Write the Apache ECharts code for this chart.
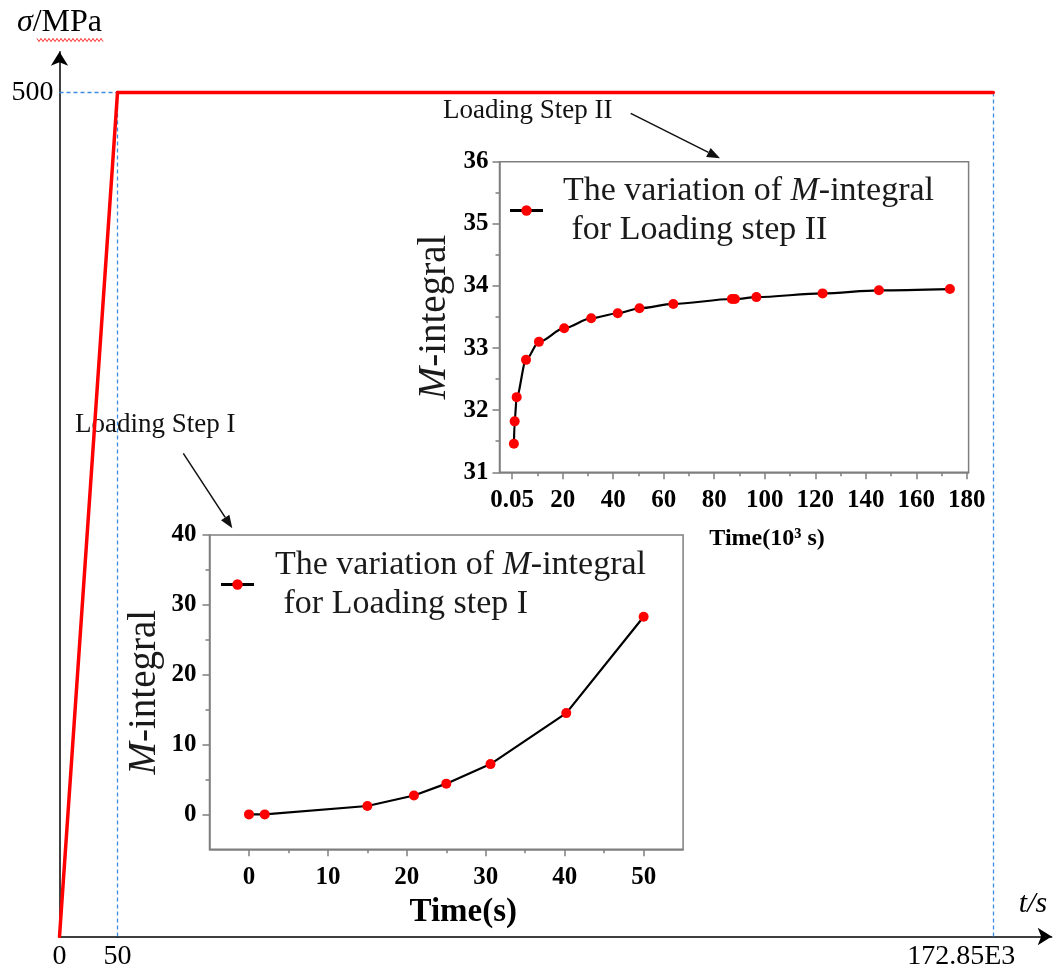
<!DOCTYPE html>
<html><head><meta charset="utf-8">
<script src="https://cdn.jsdelivr.net/npm/echarts@6/dist/echarts.min.js"></script>
<style>html,body{margin:0;padding:0;background:#fff}#c{width:1057px;height:976px}</style>
</head><body><div id="c"></div>
<script>
// ---------- data ----------
const mainTime = [0, 50, 172850];          // s (schematic broken axis)
const mainStress = [0, 500, 500];          // MPa
const step1Time = [0, 2, 15, 20.9, 25, 30.6, 40.2, 50];              // s
const step1M = [0, 0, 1.2, 2.7, 4.4, 7.2, 14.5, 28.3];
const step2Time = [0.7, 1.0, 1.8, 5.5, 10.6, 20.6, 31.3, 41.8, 50.4, 63.8, 87.0, 88.2, 96.7, 122.9, 145.2, 173.3]; // 10^3 s
const step2M = [31.46, 31.82, 32.21, 32.81, 33.10, 33.32, 33.48, 33.56, 33.64, 33.71, 33.79, 33.79, 33.82, 33.88, 33.93, 33.95];
const step1XTicks = [0, 10, 20, 30, 40, 50];
const step1XMinor = [5, 15, 25, 35, 45];
const step1YTicks = [0, 10, 20, 30, 40];
const step1YMinor = [5, 15, 25, 35];
const step2XTicks = [0, 20, 40, 60, 80, 100, 120, 140, 160, 180];
const step2XMinor = [10, 30, 50, 70, 90, 110, 130, 150, 170];
const step2YTicks = [31, 32, 33, 34, 35, 36];
const step2YMinor = [31.5, 32.5, 33.5, 34.5, 35.5];
const step2FirstLabel = '0.05';
const endLabel = '172.85E3';

// ---------- styling ----------
const SERIF = '"Liberation Serif", "Times New Roman", serif';
const GRAY = '#7f7f7f';
const grayLine = {color: GRAY, width: 1.5};
const tickLbl = {fontFamily: SERIF, fontWeight: 'bold', fontSize: 25, color: '#000'};
const richM = {
  a: {fontFamily: SERIF, fontSize: 39, color: '#1a1a1a'},
  i: {fontFamily: SERIF, fontSize: 39, fontStyle: 'italic', color: '#1a1a1a'}
};
const legRich = {
  a: {fontFamily: SERIF, fontSize: 34, lineHeight: 39, color: '#1a1a1a'},
  i: {fontFamily: SERIF, fontSize: 34, lineHeight: 39, fontStyle: 'italic', color: '#1a1a1a'}
};

function majorAxis(grid, pos, min, max, ticks, margin, extra, fmt) {
  const lbl = Object.assign({customValues: ticks, margin: margin}, tickLbl);
  if (fmt) lbl.formatter = fmt;
  return Object.assign({
    gridIndex: grid, type: 'value', position: pos, min: min, max: max,
    axisLine: {show: true, onZero: false, lineStyle: grayLine},
    axisTick: {show: true, customValues: ticks, length: 7, lineStyle: grayLine},
    axisLabel: lbl,
    splitLine: {show: false}
  }, extra || {});
}
function minorAxis(grid, pos, min, max, ticks) {
  return {
    gridIndex: grid, type: 'value', position: pos, offset: 0, min: min, max: max,
    axisLine: {show: false, onZero: false},
    axisTick: {show: true, customValues: ticks, length: 4, lineStyle: grayLine},
    axisLabel: {show: false}, splitLine: {show: false}
  };
}
function arrow(x1, y1, x2, y2) {
  const a = Math.atan2(y2 - y1, x2 - x1), L = 13, W = 5;
  const bx = x2 - L * Math.cos(a), by = y2 - L * Math.sin(a);
  return [
    {type: 'line', silent: true, shape: {x1: x1, y1: y1, x2: bx, y2: by}, style: {stroke: '#111', lineWidth: 1.5}},
    {type: 'polygon', silent: true, shape: {points: [[x2, y2], [bx + W * Math.sin(a), by - W * Math.cos(a)], [bx - W * Math.sin(a), by + W * Math.cos(a)]]}, style: {fill: '#111'}}
  ];
}
const squiggle = [];
for (let x = 37, k = 0; x <= 103; x += 2, k++) squiggle.push([x, 40 + (k % 2 ? 1.6 : -1.6)]);

const dashStyle = {color: '#3f8be0', type: [4, 3], width: 1.3};

const option = {
  backgroundColor: '#fff',
  animation: false,
  grid: [
    {left: 59.5, top: 51.7, width: 58, height: 884.8, show: false, outerBoundsMode: 'none'},
    {left: 117.5, top: 51.7, width: 934.2, height: 884.8, show: false, outerBoundsMode: 'none'},
    {left: 209.5, top: 535, width: 473.6, height: 314.3, show: true, backgroundColor: '#fff', borderColor: GRAY, borderWidth: 1.5, outerBoundsMode: 'none'},
    {left: 499.5, top: 161.7, width: 469.1, height: 310.6, show: true, backgroundColor: '#fff', borderColor: GRAY, borderWidth: 1.5, outerBoundsMode: 'none'}
  ],
  xAxis: [
    {gridIndex: 0, type: 'value', min: 0, max: 50, interval: 50,
     axisLine: {onZero: false, lineStyle: {color: '#000', width: 1.5}}, axisTick: {show: false}, splitLine: {show: false},
     axisLabel: {fontFamily: SERIF, fontSize: 28, color: '#000', margin: 6}},
    {gridIndex: 1, type: 'value', min: 50, max: 184375,
     axisLine: {onZero: false, lineStyle: {color: '#000', width: 1.5}, symbol: ['none', 'arrow'], symbolSize: [13, 14]},
     axisTick: {show: false}, splitLine: {show: false},
     axisLabel: {customValues: [mainTime[2]], formatter: () => endLabel, fontFamily: SERIF, fontSize: 28, color: '#000', margin: 6, padding: [0, 64, 0, 0]}},
    majorAxis(2, 'bottom', -5, 55, step1XTicks, 16, {
      name: 'Time(s)', nameLocation: 'middle', nameGap: 47,
      nameTextStyle: {fontFamily: SERIF, fontWeight: 'bold', fontSize: 33, color: '#000', padding: [0, 0, 0, 34]}}),
    minorAxis(2, 'bottom', -5, 55, step1XMinor),
    majorAxis(3, 'bottom', -5, 180.7, step2XTicks, 16, {
      name: 'Time(10³ s)', nameLocation: 'middle', nameGap: 54,
      nameTextStyle: {fontFamily: SERIF, fontWeight: 'bold', fontSize: 24, color: '#000', padding: [0, 0, 0, 66]}},
      v => (v === 0 ? step2FirstLabel : String(v))),
    minorAxis(3, 'bottom', -5, 180.7, step2XMinor)
  ],
  yAxis: [
    {gridIndex: 0, type: 'value', min: 0, max: 524.2, interval: 500,
     axisLine: {show: true, onZero: false, lineStyle: {color: '#000', width: 1.5}, symbol: ['none', 'arrow'], symbolSize: [13, 14]},
     axisTick: {show: false}, splitLine: {show: false},
     axisLabel: {formatter: v => (v === 500 ? '500' : ''), fontFamily: SERIF, fontSize: 28, color: '#000', margin: 6},
     name: '{i|σ}{a|/MPa}', nameLocation: 'end', nameGap: 13,
     nameTextStyle: {rich: {
       a: {fontFamily: SERIF, fontSize: 32, color: '#000'},
       i: {fontFamily: SERIF, fontSize: 32, fontStyle: 'italic', color: '#000'}}}},
    {gridIndex: 1, type: 'value', min: 0, max: 524.2, show: false},
    majorAxis(2, 'left', -5, 40, step1YTicks, 13, {
      name: '{i|M}{a|-integral}', nameLocation: 'middle', nameGap: 45, nameTextStyle: {rich: richM}}),
    minorAxis(2, 'left', -5, 40, step1YMinor),
    majorAxis(3, 'left', 31, 36, step2YTicks, 11, {
      name: '{i|M}{a|-integral}', nameLocation: 'middle', nameGap: 45, nameTextStyle: {rich: richM}}),
    minorAxis(3, 'left', 31, 36, step2YMinor)
  ],
  legend: [
    {data: ['step1'], left: 219.5, top: 548, padding: 0, itemWidth: 33, itemHeight: 13,
     lineStyle: {width: 3}, selectedMode: false,
     formatter: () => '{a|The variation of }{i|M}{a|-integral}\n{a| for Loading step I}',
     textStyle: {padding: [0, 0, 0, 16], rich: legRich}},
    {data: ['step2'], left: 508.5, top: 174, padding: 0, itemWidth: 33, itemHeight: 13,
     lineStyle: {width: 3}, selectedMode: false,
     formatter: () => '{a|The variation of }{i|M}{a|-integral}\n{a| for Loading step II}',
     textStyle: {padding: [0, 0, 0, 15], rich: legRich}}
  ],
  series: [
    {type: 'line', xAxisIndex: 0, yAxisIndex: 0, symbol: 'none', z: 5,
     data: [[mainTime[0], mainStress[0]], [mainTime[1], mainStress[1]]],
     lineStyle: {color: '#ff0000', width: 3.5, cap: 'round'},
     markLine: {silent: true, symbol: ['none', 'none'], label: {show: false}, lineStyle: dashStyle, emphasis: {disabled: true},
       data: [
         [{coord: [mainTime[0], mainStress[1]]}, {coord: [mainTime[1], mainStress[1]]}],
         [{coord: [mainTime[1], 0]}, {coord: [mainTime[1], mainStress[1]]}]
       ]}},
    {type: 'line', xAxisIndex: 1, yAxisIndex: 1, symbol: 'none', z: 5,
     data: [[mainTime[1], mainStress[1]], [mainTime[2], mainStress[2]]],
     lineStyle: {color: '#ff0000', width: 3.5, cap: 'round'},
     markLine: {silent: true, symbol: ['none', 'none'], label: {show: false}, lineStyle: dashStyle, emphasis: {disabled: true},
       data: [[{coord: [mainTime[2], 0]}, {coord: [mainTime[2], mainStress[2]]}]]}},
    {type: 'line', name: 'step1', xAxisIndex: 2, yAxisIndex: 2, z: 5,
     data: step1Time.map((t, i) => [t, step1M[i]]),
     symbol: 'circle', symbolSize: 10, itemStyle: {color: '#ff0000'},
     lineStyle: {color: '#000', width: 2.2}},
    {type: 'line', name: 'step2', xAxisIndex: 4, yAxisIndex: 4, z: 5,
     data: step2Time.map((t, i) => [t, step2M[i]]),
     smooth: 0.3, smoothMonotone: 'x',
     symbol: 'circle', symbolSize: 10, itemStyle: {color: '#ff0000'},
     lineStyle: {color: '#000', width: 2.2}}
  ],
  graphic: [
    {type: 'polyline', silent: true, shape: {points: squiggle}, style: {stroke: '#ff3030', lineWidth: 1, fill: null}},
    {type: 'text', silent: true, x: 1033, y: 904,
     style: {text: 't/s', font: 'italic 30px ' + SERIF, fill: '#000', align: 'center', verticalAlign: 'middle', textAlign: 'center', textVerticalAlign: 'middle'}},
    {type: 'text', silent: true, x: 75, y: 425,
     style: {text: 'Loading Step I', font: '27px ' + SERIF, fill: '#111', align: 'left', verticalAlign: 'middle', textAlign: 'left', textVerticalAlign: 'middle'}},
    {type: 'text', silent: true, x: 443, y: 111,
     style: {text: 'Loading Step II', font: '27px ' + SERIF, fill: '#111', align: 'left', verticalAlign: 'middle', textAlign: 'left', textVerticalAlign: 'middle'}}
  ].concat(arrow(183.3, 453.3, 232.3, 528.3), arrow(630.7, 113.3, 720, 158.3))
};

const chart = echarts.init(document.getElementById('c'), null, {renderer: 'canvas'});
chart.setOption(option);
</script>
</body></html>
